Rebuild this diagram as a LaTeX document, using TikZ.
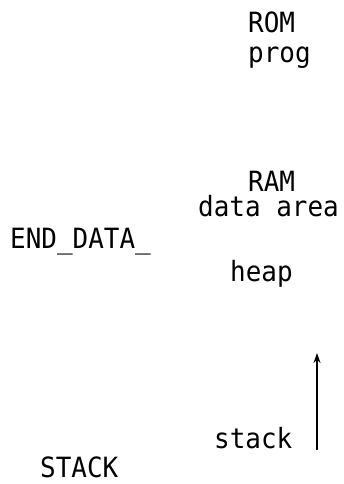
\documentclass[tikz,border=0pt]{standalone}
\usepackage{fontspec}
\setmainfont[FakeStretch=0.93]{DejaVu Sans Mono}
\usetikzlibrary{arrows.meta}
\begin{document}
\begin{tikzpicture}[x=1bp,y=-1bp,
  lbl/.style={anchor=base west,inner sep=0pt,font=\fontsize{28}{28}\selectfont},
  growarrow/.style={line width=1.6bp,-{Stealth[length=10bp,width=7bp]}}]
  \useasboundingbox (0,0) rectangle (343,484);
  % memory map labels
  \node[lbl] (rom)  at (248,33)  {ROM};
  \node[lbl] (prog) at (248,63)  {prog};
  \node[lbl] (ram)  at (248,192) {RAM};
  \node[lbl] (data) at (198,216) {data area};
  \node[lbl] (end)  at (10,248)  {END\_DATA\_};
  \node[lbl] (heap) at (230,281) {heap};
  \node[lbl] (stk)  at (214,448) {stack};
  \node[lbl] (STK)  at (40,477)  {STACK};
  % stack growth direction
  \coordinate (sbot) at (317,450);
  \coordinate (stop) at (317,353);
  \draw[growarrow] (sbot) -- (stop);
\end{tikzpicture}
\end{document}
